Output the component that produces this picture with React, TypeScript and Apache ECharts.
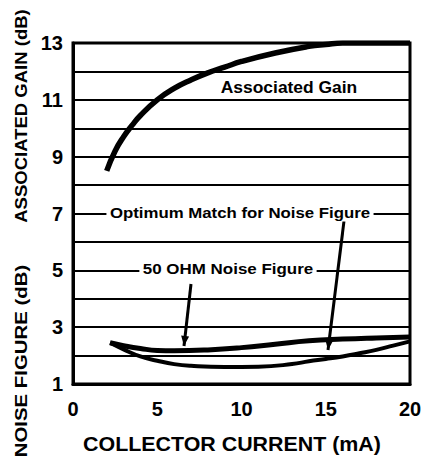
import React, { useEffect, useRef } from "react";
import * as echarts from "echarts";

const xTicks = [0, 5, 10, 15, 20];
const yTickLabels = [1, 3, 5, 7, 9, 11, 13];

const gainX = [2, 2.5, 3, 3.5, 4, 5, 6, 7, 8, 9, 10, 12, 14, 15, 16, 18, 20];
const gainY = [8.5, 9.2, 9.7, 10.1, 10.45, 11.0, 11.4, 11.7, 11.95, 12.15, 12.35, 12.65, 12.88, 12.95, 13.0, 13.0, 13.0];

const nf50X = [2.2, 3, 4, 5, 6, 8, 10, 12, 14, 16, 18, 20];
const nf50Y = [2.45, 2.35, 2.25, 2.18, 2.17, 2.2, 2.28, 2.4, 2.52, 2.58, 2.62, 2.65];

const nfOptX = [2.2, 3, 4, 5, 6, 7, 9, 11, 13, 14, 15, 16, 17, 18, 19, 20];
const nfOptY = [2.45, 2.22, 1.97, 1.82, 1.7, 1.64, 1.6, 1.61, 1.7, 1.8, 1.88, 1.97, 2.08, 2.2, 2.35, 2.5];

const zip = (xs: number[], ys: number[]) => xs.map((x, i) => [x, ys[i]]);

const FONT = "'Liberation Sans', Arial, sans-serif";

function arrowHead(x1: number, y1: number, x2: number, y2: number, len = 10, half = 4) {
  const dx = x2 - x1, dy = y2 - y1;
  const l = Math.hypot(dx, dy);
  const ux = dx / l, uy = dy / l;
  const bx = x2 - ux * len, by = y2 - uy * len;
  return [[x2, y2], [bx - uy * half, by + ux * half], [bx + uy * half, by - ux * half]];
}

function txt(x: number, y: number, text: string, size: number, scaleX: number, rotation = 0, bg = false) {
  const style: any = {
    text,
    fontFamily: FONT,
    fontWeight: "bold",
    fontSize: size,
    fill: "#000",
    align: "center",
    verticalAlign: "middle",
  };
  if (bg) {
    style.backgroundColor = "#fff";
    style.padding = [1, 3];
  }
  return { type: "text", x, y, rotation, scaleX, z: 100, style };
}

export default function App() {
  const ref = useRef<HTMLDivElement>(null);
  useEffect(() => {
    const chart = echarts.init(ref.current!, null, { renderer: "svg" });
    const a1 = { x1: 191, y1: 284, x2: 184, y2: 346 };
    const a2 = { x1: 344, y1: 221, x2: 328, y2: 350 };
    chart.setOption({
      animation: false,
      grid: { left: 73, right: 19, top: 43, bottom: 74, show: true, borderColor: "#000", borderWidth: 3 },
      xAxis: {
        type: "value",
        min: 0,
        max: 20,
        interval: 5,
        axisLine: { lineStyle: { color: "#000", width: 3 } },
        axisTick: { show: false },
        splitLine: { show: false },
        axisLabel: {
          fontFamily: FONT, fontWeight: "bold", fontSize: 20, color: "#000", margin: 15,
          formatter: (v: number) => (xTicks.includes(v) ? String(v) : ""),
        },
      },
      yAxis: {
        type: "value",
        min: 1,
        max: 13,
        interval: 1,
        axisLine: { show: true, lineStyle: { color: "#000", width: 3 } },
        axisTick: { show: false },
        splitLine: { show: true, lineStyle: { color: "#000", width: 2 } },
        axisLabel: {
          fontFamily: FONT, fontWeight: "bold", fontSize: 20, color: "#000", margin: 10,
          formatter: (v: number) => (yTickLabels.includes(v) ? String(v) : ""),
        },
      },
      series: [
        { type: "line", data: zip(gainX, gainY), smooth: true, showSymbol: false, lineStyle: { color: "#000", width: 5.5 } },
        { type: "line", data: zip(nf50X, nf50Y), smooth: true, showSymbol: false, lineStyle: { color: "#000", width: 5 } },
        { type: "line", data: zip(nfOptX, nfOptY), smooth: true, showSymbol: false, lineStyle: { color: "#000", width: 4 } },
      ],
      graphic: [
        txt(21, 116, "ASSOCIATED GAIN (dB)", 17, 1.09, Math.PI / 2),
        txt(21, 361, "NOISE FIGURE (dB)", 17, 1.2, Math.PI / 2),
        txt(232, 444, "COLLECTOR CURRENT (mA)", 20, 1.07),
        txt(289, 88, "Associated Gain", 16, 1.09, 0, true),
        txt(240, 213, "Optimum Match for Noise Figure", 15, 1.12, 0, true),
        txt(228, 269, "50 OHM Noise Figure", 15, 1.13, 0, true),
        { type: "line", z: 90, shape: { x1: a1.x1, y1: a1.y1, x2: a1.x2, y2: a1.y2 }, style: { stroke: "#000", lineWidth: 3 } },
        { type: "polygon", z: 90, shape: { points: arrowHead(a1.x1, a1.y1, a1.x2, a1.y2) }, style: { fill: "#000" } },
        { type: "line", z: 90, shape: { x1: a2.x1, y1: a2.y1, x2: a2.x2, y2: a2.y2 }, style: { stroke: "#000", lineWidth: 3 } },
        { type: "polygon", z: 90, shape: { points: arrowHead(a2.x1, a2.y1, a2.x2, a2.y2) }, style: { fill: "#000" } },
      ],
    });
    return () => chart.dispose();
  }, []);
  return <div ref={ref} style={{ position: "fixed", left: 0, top: 0, width: 429, height: 458, background: "#fff" }} />;
}
